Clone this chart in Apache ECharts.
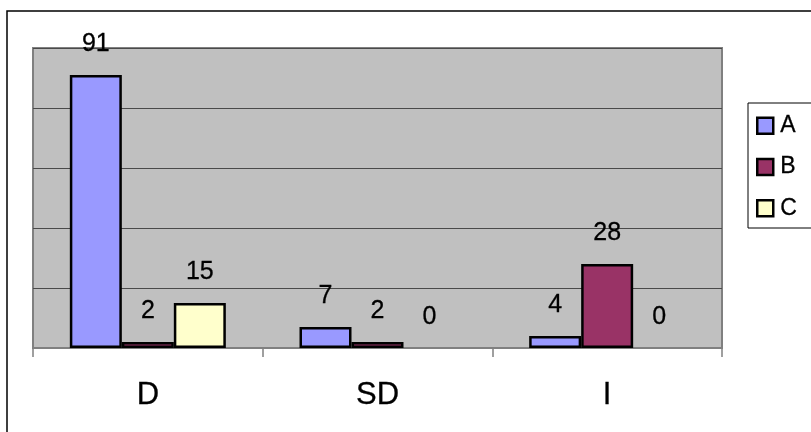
<!DOCTYPE html>
<html>
<head>
<meta charset="utf-8">
<script src="https://cdn.jsdelivr.net/npm/echarts@6/dist/echarts.min.js"></script>
<style>
  html, body { margin: 0; padding: 0; background: #ffffff; }
  #chart { width: 811px; height: 432px; }
</style>
</head>
<body>
<div id="chart"></div>
<script>
// Categories along the x axis
const categories = ['D', 'SD', 'I'];
// Series values per category
const seriesA = [91, 7, 4];
const seriesB = [2, 2, 28];
const seriesC = [15, 0, 0];
const seriesNames = ['A', 'B', 'C'];
const seriesColors = ['#9999ff', '#993366', '#ffffcc'];

const FONT = '"Liberation Sans", Arial, sans-serif';

// Zero-valued bars get no outline so nothing is drawn at the baseline
function toData(values) {
  return values.map(v => v === 0
    ? { value: v, itemStyle: { borderWidth: 0 } }
    : v);
}

const allValues = [seriesA, seriesB, seriesC];

const chart = echarts.init(document.getElementById('chart'), null, { renderer: 'canvas' });

chart.setOption({
  animation: false,
  backgroundColor: '#ffffff',
  graphic: [
    {
      type: 'rect',
      shape: { x: 7, y: 11, width: 1200, height: 1200 },
      style: { fill: 'none', stroke: '#000000', lineWidth: 1.5 },
      z: 0
    },
    {
      type: 'rect',
      shape: { x: 748, y: 103, width: 200, height: 125 },
      style: { fill: '#ffffff', stroke: '#000000', lineWidth: 1 },
      z: 1
    }
  ],
  grid: {
    left: 33,
    top: 48,
    right: 89,
    bottom: 84,
    show: true,
    backgroundColor: '#c0c0c0',
    borderColor: '#808080',
    borderWidth: 2
  },
  legend: {
    orient: 'vertical',
    left: 756,
    top: 114,
    padding: 0,
    itemWidth: 16,
    itemHeight: 16,
    itemGap: 18,
    icon: 'rect',
    z: 5,
    itemStyle: { borderColor: '#000000', borderWidth: 2.5 },
    textStyle: {
      fontFamily: FONT, fontSize: 23, color: '#000000',
      padding: [0, 0, 0, 2],
      textBorderColor: '#000000', textBorderWidth: 0.3
    },
    data: seriesNames
  },
  xAxis: {
    type: 'category',
    data: categories,
    axisLine: { show: true, lineStyle: { color: '#808080', width: 2 } },
    axisTick: { show: true, length: 9, lineStyle: { color: '#808080', width: 1.5 } },
    axisLabel: {
      fontFamily: FONT, fontSize: 31, color: '#000000', margin: 32,
      textBorderColor: '#000000', textBorderWidth: 0.3
    },
    splitLine: { show: false }
  },
  yAxis: {
    type: 'value',
    min: 0,
    max: 100,
    interval: 20,
    axisLine: { show: false },
    axisTick: { show: false },
    axisLabel: { show: false },
    splitLine: { show: true, lineStyle: { color: '#4a4a4a', width: 1.2 } }
  },
  series: seriesNames.map((name, i) => ({
    name: name,
    type: 'bar',
    data: toData(allValues[i]),
    barWidth: 52,
    barGap: '0%',
    itemStyle: { color: seriesColors[i], borderColor: '#000000', borderWidth: 2.5 },
    label: {
      show: true,
      position: 'top',
      distance: 18,
      fontFamily: FONT,
      fontSize: 25,
      color: '#000000',
      textBorderColor: '#000000',
      textBorderWidth: 0.3
    }
  }))
});
</script>
</body>
</html>
